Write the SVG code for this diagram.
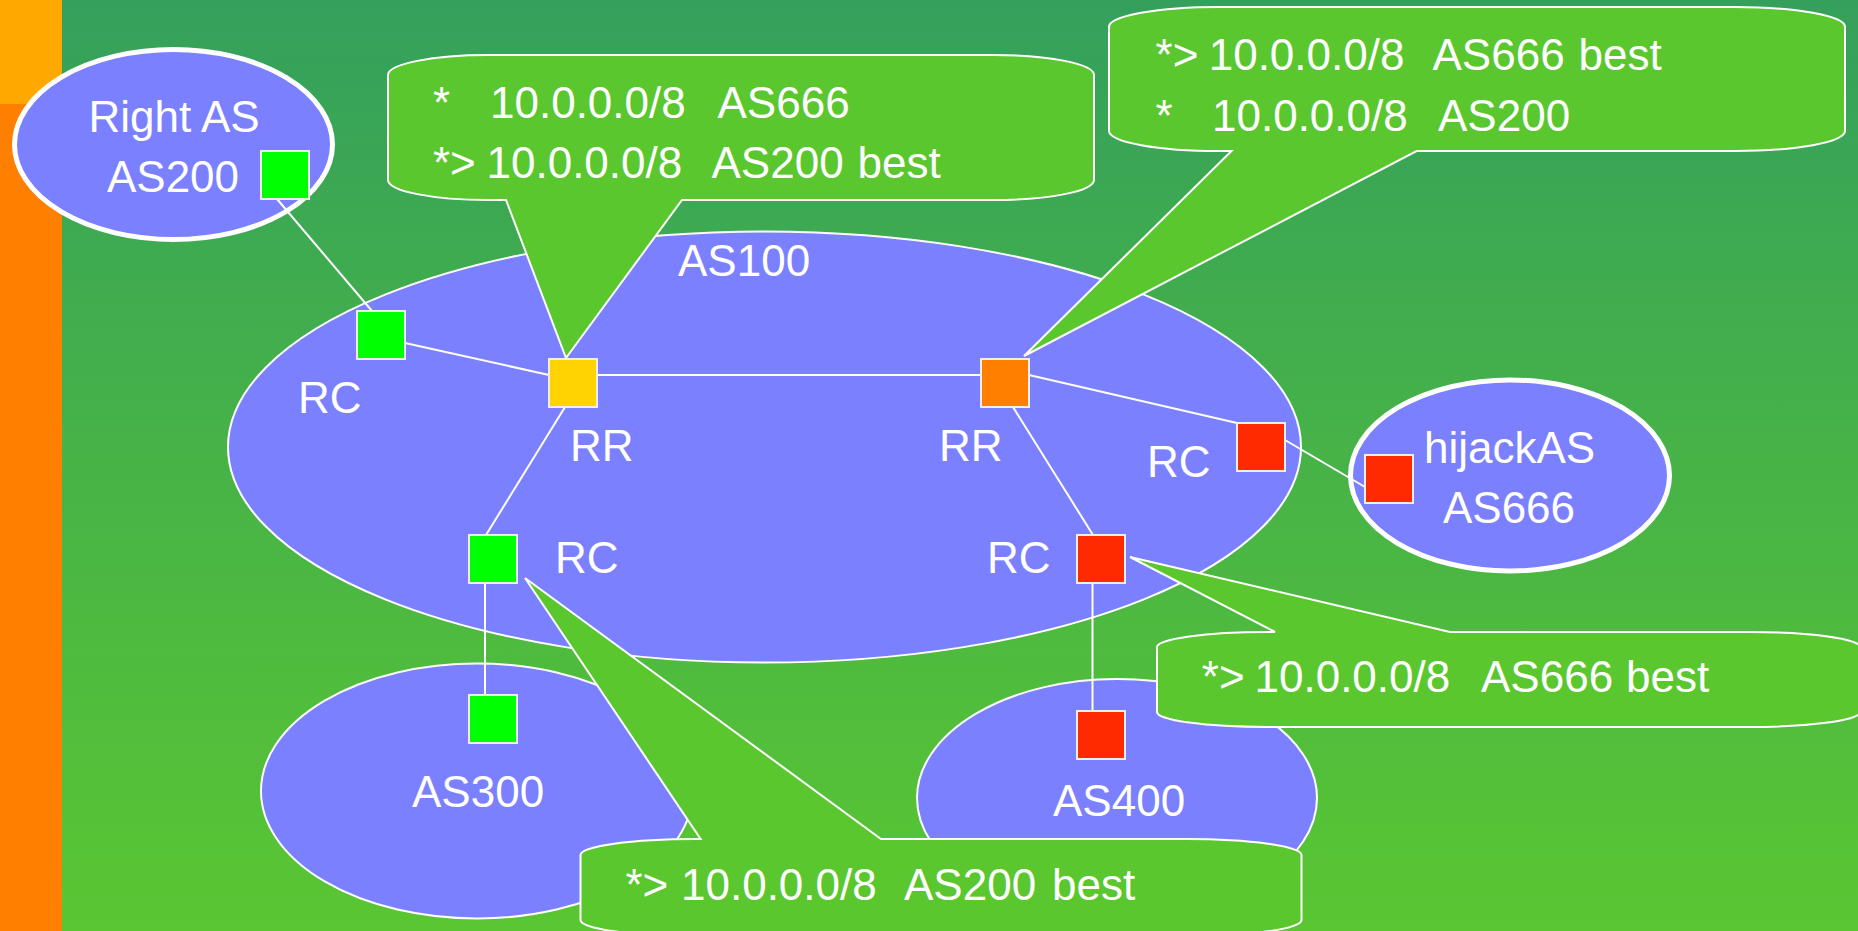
<svg xmlns="http://www.w3.org/2000/svg" width="1858" height="931" viewBox="0 0 1858 931">
<defs>
<linearGradient id="bg" x1="0" y1="0" x2="0" y2="1">
<stop offset="0" stop-color="#34a05c"/>
<stop offset="1" stop-color="#5ac632"/>
</linearGradient>
<style>
.as{fill:#7b80ff;stroke:#ffffff;stroke-width:2}
.asb{fill:#7b80ff;stroke:#ffffff;stroke-width:5}
.co{fill:#5bc72f;stroke:#ffffff;stroke-width:2;stroke-linejoin:miter}
.ln{stroke:#ffffff;stroke-width:2;fill:none}
.sq{stroke:#eeeeee;stroke-width:2}
.g{fill:#00ff00}
.y{fill:#ffd300}
.o{fill:#ff7f00}
.r{fill:#ff2a00}
text{font-family:"Liberation Sans",Arial,sans-serif;font-size:44px;fill:#ffffff}
</style>
</defs>
<rect x="0" y="0" width="1858" height="931" fill="url(#bg)"/>
<rect x="0" y="0" width="62" height="104" fill="#ffa800"/>
<rect x="0" y="104" width="62" height="827" fill="#ff7f00"/>

<g id="as100"><ellipse class="as" cx="764.5" cy="447" rx="536.5" ry="215.5"/><text x="678" y="276">AS100</text></g>
<g id="as300"><ellipse class="as" cx="477" cy="791" rx="216" ry="127.5"/><text x="412" y="807">AS300</text></g>
<g id="as400"><ellipse class="as" cx="1117" cy="798" rx="200" ry="119"/><text x="1053" y="816">AS400</text></g>
<g id="as200"><ellipse class="asb" cx="173.5" cy="144.5" rx="159" ry="95"/><text x="174" y="132" text-anchor="middle">Right AS</text><text x="173" y="192" text-anchor="middle">AS200</text></g>
<g id="as666"><ellipse class="asb" cx="1510" cy="475.5" rx="159.5" ry="95.5"/><text x="1509.5" y="463" text-anchor="middle">hijackAS</text><text x="1509" y="523" text-anchor="middle">AS666</text></g>

<g id="connectors">
<line class="ln" x1="277" y1="199" x2="372" y2="311"/>
<line class="ln" x1="405" y1="343" x2="549" y2="375"/>
<line class="ln" x1="597" y1="375" x2="981" y2="375"/>
<line class="ln" x1="565" y1="407" x2="486" y2="535"/>
<line class="ln" x1="485" y1="583" x2="485" y2="695"/>
<line class="ln" x1="1029" y1="375" x2="1237" y2="423"/>
<line class="ln" x1="1013" y1="407" x2="1093" y2="535"/>
<line class="ln" x1="1285" y1="440" x2="1365" y2="487"/>
<line class="ln" x1="1092.5" y1="583" x2="1092.5" y2="711"/>
</g>

<g id="r-as200"><rect class="sq g" x="261" y="151" width="48" height="48"/></g>
<g id="rc-left"><rect class="sq g" x="357" y="311" width="48" height="48"/><text x="298" y="413">RC</text></g>
<g id="rr-left"><rect class="sq y" x="549" y="359" width="48" height="48"/><text x="570" y="461">RR</text></g>
<g id="rc-lowerleft"><rect class="sq g" x="469" y="535" width="48" height="48"/><text x="555" y="573">RC</text></g>
<g id="r-as300"><rect class="sq g" x="469" y="695" width="48" height="48"/></g>
<g id="rr-right"><rect class="sq o" x="981" y="359" width="48" height="48"/><text x="939" y="461">RR</text></g>
<g id="rc-right"><rect class="sq r" x="1237" y="423" width="48" height="48"/><text x="1147" y="477">RC</text></g>
<g id="rc-lowerright"><rect class="sq r" x="1077" y="535" width="48" height="48"/><text x="987" y="573">RC</text></g>
<g id="r-as400"><rect class="sq r" x="1077" y="711" width="48" height="48"/></g>
<g id="r-as666"><rect class="sq r" x="1365" y="455" width="48" height="48"/></g>

<g id="callout-rr-left">
<path class="co" d="M 488,55 H 994 A 100 20 0 0 1 1094,75 V 180 A 100 20 0 0 1 994,200 H 682 L 566,358 L 506,200 H 488 A 100 20 0 0 1 388,180 V 75 A 100 20 0 0 1 488,55 Z"/>
<text y="118"><tspan x="433">*</tspan><tspan x="490">10.0.0.0/8</tspan><tspan x="717.5">AS666</tspan></text>
<text y="178"><tspan x="433">*&gt;</tspan><tspan x="486.5">10.0.0.0/8</tspan><tspan x="711.5">AS200</tspan><tspan x="857.5">best</tspan></text>
</g>
<g id="callout-rr-right">
<path class="co" d="M 1219,7 H 1735 A 110 20 0 0 1 1845,27 V 131 A 110 20 0 0 1 1735,151 H 1416.6 L 1024,356 L 1231.5,151 H 1219 A 110 20 0 0 1 1109,131 V 27 A 110 20 0 0 1 1219,7 Z"/>
<text y="69.5"><tspan x="1155.6">*&gt;</tspan><tspan x="1208.7">10.0.0.0/8</tspan><tspan x="1432.5">AS666</tspan><tspan x="1578.5">best</tspan></text>
<text y="130.7"><tspan x="1155.6">*</tspan><tspan x="1212">10.0.0.0/8</tspan><tspan x="1438">AS200</tspan></text>
</g>
<g id="callout-rc-right">
<path class="co" d="M 1267,632 H 1275 L 1130,557 L 1450,632 H 1750 A 110 15 0 0 1 1860,647 V 712 A 110 15 0 0 1 1750,727 H 1267 A 110 15 0 0 1 1157,712 V 647 A 110 15 0 0 1 1267,632 Z"/>
<text y="691.7"><tspan x="1201.8">*&gt;</tspan><tspan x="1254.5">10.0.0.0/8</tspan><tspan x="1481">AS666</tspan><tspan x="1626">best</tspan></text>
</g>
<g id="callout-rc-left">
<path class="co" d="M 695.5,839 H 700.6 L 525,578 L 881,839 H 1186.5 A 115 16 0 0 1 1301.5,855 V 920 A 115 16 0 0 1 1186.5,936 H 695.5 A 115 16 0 0 1 580.5,920 V 855 A 115 16 0 0 1 695.5,839 Z"/>
<text y="900"><tspan x="625.4">*&gt;</tspan><tspan x="681">10.0.0.0/8</tspan><tspan x="904">AS200</tspan><tspan x="1052">best</tspan></text>
</g>
</svg>
